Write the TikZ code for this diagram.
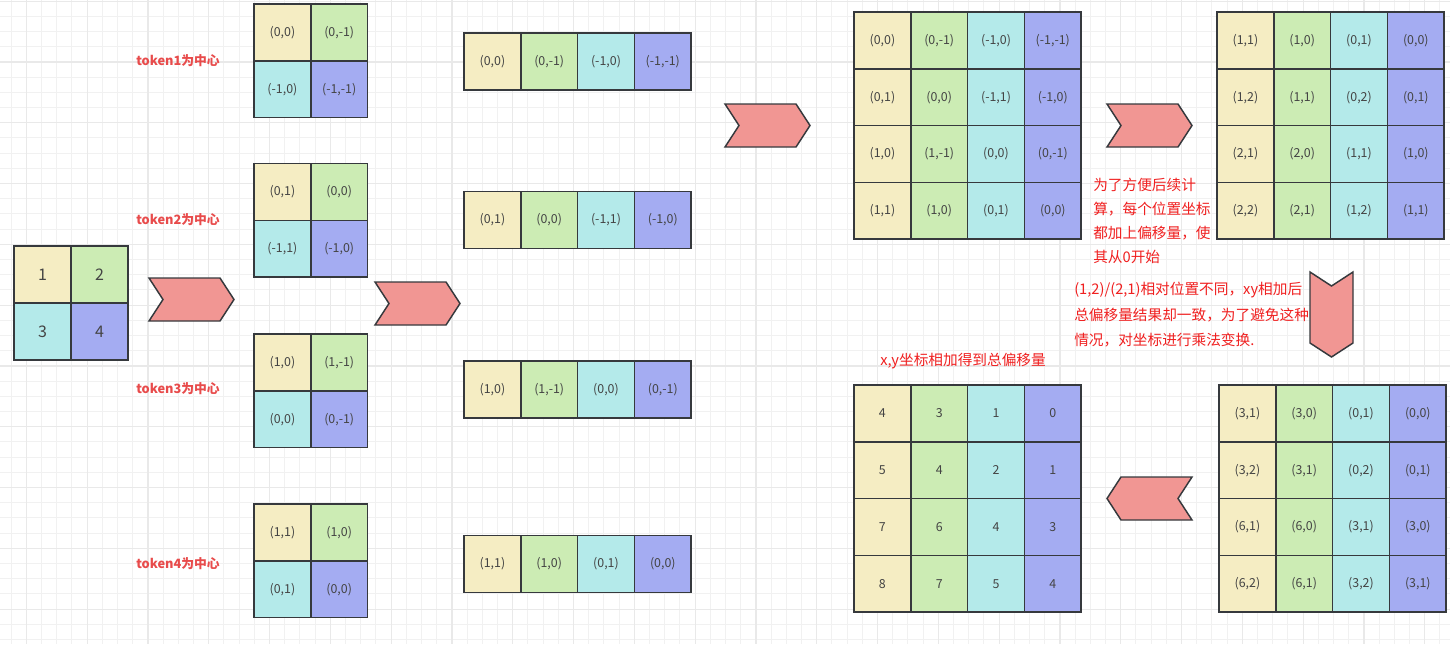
\documentclass[tikz,border=0pt]{standalone}
\usepackage{fontspec}
\setmainfont{Noto Sans CJK SC}
\definecolor{col0}{HTML}{F5EDC3}
\definecolor{col1}{HTML}{CCECB4}
\definecolor{col2}{HTML}{B4EAEA}
\definecolor{col3}{HTML}{A4ACF2}
\definecolor{strk}{HTML}{36393D}
\definecolor{txt}{HTML}{444444}
\definecolor{arrowfill}{HTML}{F19693}
\definecolor{tokred}{HTML}{E84B4B}
\definecolor{notered}{HTML}{F02020}
\definecolor{gridminor}{HTML}{F1F1F1}
\definecolor{gridmajor}{HTML}{E9E9E9}
\newcommand\mkgrid[6]{% name, x0, y0, ncols, cell size, list
  \pgfmathsetmacro\cellpt{#5*0.75}
  \foreach \t [count=\i from 0] in {#6} {
    \pgfmathtruncatemacro\cc{mod(\i,#4)}
    \pgfmathtruncatemacro\rr{int(\i/#4)}
    \pgfmathtruncatemacro\kk{ifthenelse(#4==2,\i,\cc)}
    \node[cell, fill=col\kk, minimum width=\cellpt pt, minimum height=\cellpt pt]
      (#1-\rr-\cc) at ({#2+(\cc+0.5)*#5},{#3+(\rr+0.5)*#5}) {\t};
  }}
\newcommand\chevright[2]{%
  \draw[chev] (#1,#2) -- ++(71,0) -- ++(14,21.5) -- ++(-14,21.5) -- ++(-71,0) -- ++(14,-21.5) -- cycle;}
\newcommand\chevleft[2]{%
  \draw[chev] (#1,#2+21.5) -- ++(14,-21.5) -- ++(71,0) -- ++(-14,21.5) -- ++(14,21.5) -- ++(-71,0) -- cycle;}
\newcommand\chevdown[2]{%
  \draw[chev] (#1,#2) -- ++(21.5,14) -- ++(21.5,-14) -- ++(0,71) -- ++(-21.5,14) -- ++(-21.5,-14) -- cycle;}
\begin{document}
\begin{tikzpicture}[x=0.75pt,y=-0.75pt,
  cell/.style={draw=strk, line width=1.1pt, text=txt, font=\fontsize{9.3}{10}\selectfont, inner sep=0pt, anchor=center},
  chev/.style={draw=strk, line width=1.1pt, fill=arrowfill, line join=miter},
  toklabel/.style={text=tokred, font=\fontsize{9.6}{10}\selectfont\bfseries, inner sep=0pt},
  note/.style={text=notered, font=\fontsize{11}{12}\selectfont, inner sep=0pt, anchor=west}]
\useasboundingbox (0,0) rectangle (1450,644);
\fill[white] (0,0) rectangle (1450,644);
% background grid
\foreach \k in {0,...,95} {
  \draw[gridminor, line width=0.8pt] ({11.1+15.2*\k},0) -- ({11.1+15.2*\k},644);
}
\foreach \k in {0,...,42} {
  \draw[gridminor, line width=0.8pt] (0,{1.1+15.2*\k}) -- (1450,{1.1+15.2*\k});
}
\foreach \k in {0,...,23} {
  \draw[gridmajor, line width=0.9pt] ({26.3+60.8*\k},0) -- ({26.3+60.8*\k},644);
}
\foreach \k in {0,...,10} {
  \draw[gridmajor, line width=0.9pt] (0,{1.1+60.8*\k}) -- (1450,{1.1+60.8*\k});
}
% left grid
\begin{scope}[cell/.append style={font=\fontsize{12}{13}\selectfont}]
\mkgrid{L}{14}{246}{2}{57}{1,2,3,4}
\end{scope}
% token grids
\mkgrid{T1}{254}{4}{2}{56.8}{{(0,0)},{(0,-1)},{(-1,0)},{(-1,-1)}}
\mkgrid{T2}{254}{163.5}{2}{56.8}{{(0,1)},{(0,0)},{(-1,1)},{(-1,0)}}
\mkgrid{T3}{254}{334}{2}{56.8}{{(1,0)},{(1,-1)},{(0,0)},{(0,-1)}}
\mkgrid{T4}{254}{504}{2}{56.8}{{(1,1)},{(1,0)},{(0,1)},{(0,0)}}
\node[toklabel] (lab1) at (178,61) {token1为中心};
\node[toklabel] (lab2) at (178,220) {token2为中心};
\node[toklabel] (lab3) at (178,389) {token3为中心};
\node[toklabel] (lab4) at (178,564) {token4为中心};
% strips
\mkgrid{S1}{464}{33}{4}{56.8}{{(0,0)},{(0,-1)},{(-1,0)},{(-1,-1)}}
\mkgrid{S2}{464}{191.5}{4}{56.8}{{(0,1)},{(0,0)},{(-1,1)},{(-1,0)}}
\mkgrid{S3}{464}{361}{4}{56.8}{{(1,0)},{(1,-1)},{(0,0)},{(0,-1)}}
\mkgrid{S4}{464}{535.5}{4}{56.8}{{(1,1)},{(1,0)},{(0,1)},{(0,0)}}
% big matrices
\mkgrid{M1}{854}{12}{4}{56.8}{{(0,0)},{(0,-1)},{(-1,0)},{(-1,-1)},{(0,1)},{(0,0)},{(-1,1)},{(-1,0)},{(1,0)},{(1,-1)},{(0,0)},{(0,-1)},{(1,1)},{(1,0)},{(0,1)},{(0,0)}}
\mkgrid{M2}{1217}{12}{4}{56.8}{{(1,1)},{(1,0)},{(0,1)},{(0,0)},{(1,2)},{(1,1)},{(0,2)},{(0,1)},{(2,1)},{(2,0)},{(1,1)},{(1,0)},{(2,2)},{(2,1)},{(1,2)},{(1,1)}}
\mkgrid{M3}{1219}{385}{4}{56.8}{{(3,1)},{(3,0)},{(0,1)},{(0,0)},{(3,2)},{(3,1)},{(0,2)},{(0,1)},{(6,1)},{(6,0)},{(3,1)},{(3,0)},{(6,2)},{(6,1)},{(3,2)},{(3,1)}}
\mkgrid{M4}{854}{385}{4}{56.8}{4,3,1,0,5,4,2,1,7,6,4,3,8,7,5,4}
% chevron arrows
\chevright{149}{278}
\chevright{375}{282}
\chevright{725}{104}
\chevright{1107}{104}
\chevdown{1310}{272}
\chevleft{1107}{477}
% notes
\node[note] (n1a) at (1093,185) {为了方便后续计};
\node[note] (n1b) at (1093,209) {算，每个位置坐标};
\node[note] (n1c) at (1093,233) {都加上偏移量，使};
\node[note] (n1d) at (1093,257) {其从0开始};
\node[note] (n2a) at (1074,290) {(1,2)/(2,1)相对位置不同，xy相加后};
\node[note] (n2b) at (1074,315) {总偏移量结果却一致，为了避免这种};
\node[note] (n2c) at (1074,340) {情况，对坐标进行乘法变换.};
\node[note] (n3) at (880,361) {x,y坐标相加得到总偏移量};
\end{tikzpicture}
\end{document}
